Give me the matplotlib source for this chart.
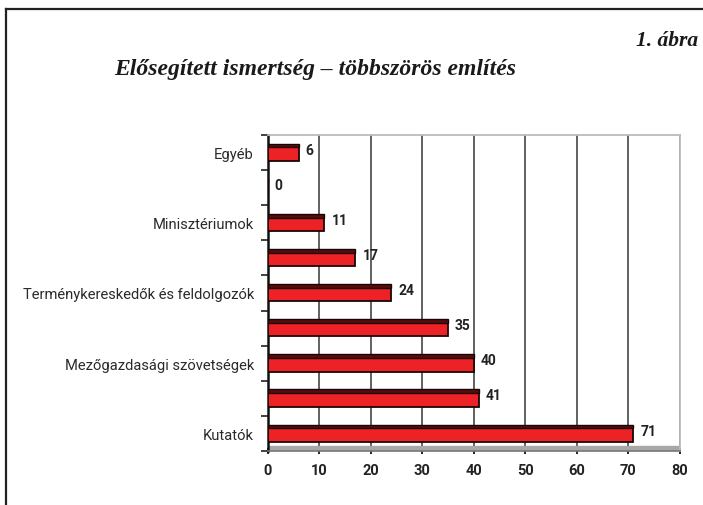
import matplotlib
matplotlib.use("Agg")
import matplotlib.pyplot as plt
from matplotlib.lines import Line2D
import numpy as np

# data, bottom to top
labels = ['Kutatók', '', 'Mezőgazdasági szövetségek', '', 'Terménykereskedők és feldolgozók',
          '', 'Minisztériumok', '', 'Egyéb']
values = [71, 41, 40, 35, 24, 17, 11, 0, 6]
xticks = [0, 10, 20, 30, 40, 50, 60, 70, 80]

narrow = ['Roboto', 'DejaVu Sans']

fig = plt.figure(figsize=(7.03, 5.06), dpi=100)
ax = fig.add_axes([0.381, 0.107, 0.586, 0.624])

y = np.arange(len(values))
# bar body + dark top face
ax.barh(y - 0.03, values, height=0.42, color='#ec2227', edgecolor='#1a0505', linewidth=1.3, zorder=3)
ax.barh(y + 0.2, values, height=0.1, color='#5a0c0c', edgecolor='#1a0505', linewidth=1.0, zorder=3)

for yi, v in zip(y, values):
    ax.annotate(str(v), (v, yi), xytext=(5, 2), textcoords='offset points',
                ha='left', va='center', fontsize=10, fontweight='bold',
                color='#222222', family=narrow, zorder=4)

# gray floor
ax.axhspan(-0.5, -0.36, color='#a8a8a8', zorder=1)

ax.set_xlim(0, 80)
ax.set_ylim(-0.5, len(values) - 0.5)
ax.set_xticks(xticks)
ax.set_xticklabels([str(t) for t in xticks], fontsize=10.5, fontweight='bold',
                   family=narrow, color='#222222')
ax.tick_params(axis='x', length=4, width=1.2, direction='inout', pad=7)
ax.set_yticks(y)
ax.set_yticklabels(labels, fontsize=10.6, family=narrow, color='#2a2a2a')
ax.tick_params(axis='y', which='major', length=0, pad=10)
ax.set_yticks(np.arange(-0.5, len(values)), minor=True)
ax.tick_params(axis='y', which='minor', length=5, width=1.2, color='#222222')

ax.xaxis.grid(True, color='#555555', linewidth=1.3, zorder=2)
ax.set_axisbelow(True)
for s in ['top', 'right']:
    ax.spines[s].set_color('#bbbbbb')
    ax.spines[s].set_linewidth(1.3)
ax.spines['left'].set_color('#111111')
ax.spines['left'].set_linewidth(1.8)
ax.spines['bottom'].set_color('#777777')
ax.spines['bottom'].set_linewidth(1.2)

# page frame
fig.add_artist(Line2D([0.0085, 1.0], [0.980, 0.980], color='#222222', linewidth=1.6))
fig.add_artist(Line2D([0.0085, 0.0085], [0.0, 0.980], color='#222222', linewidth=1.6))

fig.text(0.449, 0.862, 'Elősegített ismertség – többszörös említés', ha='center', va='center',
         fontsize=17, fontweight='bold', fontstyle='italic', family=['Liberation Serif', 'DejaVu Serif'],
         color='#1a1a1a')
fig.text(0.993, 0.918, '1. ábra', ha='right', va='center', fontsize=15.5, fontweight='bold',
         fontstyle='italic', family=['Liberation Serif', 'DejaVu Serif'], color='#1a1a1a')

fig.savefig('out.png', dpi=100)
